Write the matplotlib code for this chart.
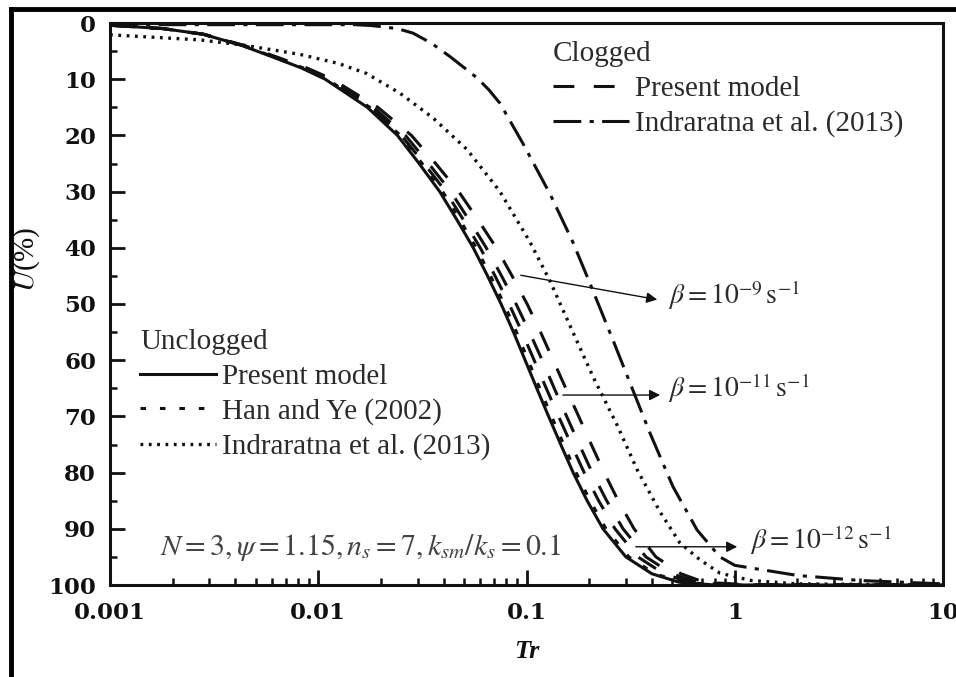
import matplotlib
matplotlib.use("Agg")
import matplotlib.pyplot as plt
from matplotlib.lines import Line2D
from matplotlib.ticker import LogLocator, NullFormatter, MultipleLocator

plt.rcParams["font.family"] = ["Liberation Serif", "DejaVu Serif"]
plt.rcParams["mathtext.fontset"] = "stix"
plt.rcParams["lines.scale_dashes"] = False

# 固结度 U(%) 的取值层级 (用于本模型/Han-Ye/淤堵曲线)
u_levels = [0.4, 1, 2, 4, 6, 8, 10, 15, 20, 25, 30, 35, 40, 45, 50, 55, 60, 65, 70,
            75, 80, 85, 90, 95, 98, 99.5, 100, 100]

# 未淤堵: 本文模型 (实线)
tr_unclog_present = [0.001, 0.0018, 0.0028, 0.0043, 0.006, 0.0083, 0.0108, 0.0172, 0.0240,
                     0.0305, 0.0383, 0.0463, 0.0555, 0.065, 0.0755, 0.0866, 0.0985, 0.112,
                     0.1277, 0.146, 0.1675, 0.1955, 0.233, 0.300, 0.40, 0.54, 0.8, 10]
# 未淤堵: Han and Ye (2002)
tr_han_ye = [0.001, 0.0018, 0.0028, 0.00435, 0.00607, 0.00849, 0.01104, 0.01768, 0.02481,
             0.03153, 0.03959, 0.04786, 0.05737, 0.06719, 0.07804, 0.08952, 0.1018, 0.1158,
             0.132, 0.1509, 0.1731, 0.2021, 0.2409, 0.3101, 0.4135, 0.5582, 0.85, 10]

# 淤堵: 本文模型, 三个 beta
tr_beta12 = [0.001, 0.0018, 0.0028, 0.004324, 0.006067, 0.008439, 0.011042, 0.01778, 0.02508,
             0.03223, 0.04093, 0.04975, 0.05996, 0.07062, 0.08248, 0.09513, 0.1088, 0.1244,
             0.1426, 0.164, 0.1892, 0.222, 0.266, 0.3425, 0.4567, 0.6031, 1.0, 10]
tr_beta11 = [0.001, 0.0018, 0.0028, 0.004348, 0.006134, 0.00858, 0.01129, 0.01838, 0.02622,
             0.03388, 0.04325, 0.05286, 0.06408, 0.07588, 0.08912, 0.1034, 0.1189, 0.1359,
             0.1559, 0.1792, 0.2067, 0.2426, 0.2908, 0.3744, 0.4992, 0.6591, 1.1, 10]
tr_beta9 = [0.001, 0.0018, 0.00283, 0.00442, 0.00627, 0.00882, 0.01167, 0.01932, 0.02802,
            0.03661, 0.04727, 0.05843, 0.0716, 0.08525, 0.1007, 0.1168, 0.1343, 0.1544,
            0.1781, 0.2047, 0.2361, 0.2756, 0.3285, 0.4183, 0.5515, 0.7122, 1.2, 10]

# Indraratna et al. (2013) 未淤堵 (点线)
tr_ind_unclog = [0.001, 0.0027, 0.0045, 0.0082, 0.0125, 0.0171, 0.0247, 0.0356, 0.0518, 0.0746,
                 0.104, 0.130, 0.167, 0.209, 0.272, 0.34, 0.438, 0.545, 0.68, 0.85, 1.2, 2, 10]
u_ind_unclog = [2.1, 3.0, 4.0, 5.6, 7.2, 9.0, 12.5, 16.9, 22.5, 30,
                39, 46, 55, 63, 71.5, 79.5, 87, 92.5, 95.5, 97.9, 99.2, 99.8, 100]

# Indraratna et al. (2013) 淤堵 (点划线)
tr_ind_clog = [0.001, 0.015, 0.018, 0.024, 0.0285, 0.035, 0.043, 0.05, 0.058, 0.066, 0.0746,
               0.096, 0.130, 0.167, 0.2, 0.26, 0.324, 0.392, 0.505, 0.659, 0.849, 1, 2, 4, 10]
u_ind_clog = [0.3, 0.3, 0.45, 1.0, 1.8, 3.6, 6, 7.9, 9.8, 11.9, 14.3, 21.4,
              30.5, 39, 46, 56.4, 65.3, 73, 82.5, 90.2, 95, 96.5, 98.3, 99.2, 99.8]

x_ticks = [0.001, 0.01, 0.1, 1, 10]
x_tick_labels = ["0.001", "0.01", "0.1", "1", "10"]
y_ticks = list(range(0, 101, 10))

ink = "#111111"
txt = "#2b2b2b"

fig = plt.figure(figsize=(9.56, 6.77), dpi=100)
ax = fig.add_axes([110 / 956, 1 - 585 / 677, 833 / 956, 562 / 677])

l_solid, = ax.plot(tr_unclog_present, u_levels, color=ink, lw=2.2)
l_han, = ax.plot(tr_han_ye, u_levels, color=ink, lw=2.2, dashes=(4, 10))
l_dot, = ax.plot(tr_ind_unclog, u_ind_unclog, color=ink, lw=2.4, dashes=(2, 4))
l_b12, = ax.plot(tr_beta12, u_levels, color=ink, lw=2.2, dashes=(15, 14))
ax.plot(tr_beta11, u_levels, color=ink, lw=2.2, dashes=(15, 14))
ax.plot(tr_beta9, u_levels, color=ink, lw=2.2, dashes=(15, 14))
l_dd, = ax.plot(tr_ind_clog, u_ind_clog, color=ink, lw=2.2, dashes=(20, 6, 3, 6))

# 坐标轴
ax.set_xscale("log")
ax.set_xlim(0.001, 10)
ax.set_ylim(100, 0)
ax.set_xticks(x_ticks)
ax.set_xticklabels(x_tick_labels)
ax.xaxis.set_minor_locator(LogLocator(base=10, subs=range(2, 10)))
ax.xaxis.set_minor_formatter(NullFormatter())
ax.set_yticks(y_ticks)
ax.yaxis.set_minor_locator(MultipleLocator(5))
ax.tick_params(which="major", direction="in", length=11, width=2, pad=10, colors=ink)
ax.tick_params(axis="x", which="major", pad=12)
ax.tick_params(which="minor", direction="in", length=5, width=1.8, colors=ink)
for lab in ax.get_xticklabels() + ax.get_yticklabels():
    lab.set_fontfamily("DejaVu Serif")
    lab.set_fontweight("bold")
    lab.set_fontsize(16.5)
for s in ax.spines.values():
    s.set_linewidth(2.2)
    s.set_color(ink)

ax.set_xlabel("Tr", fontstyle="italic", fontweight="bold", fontsize=19, color=ink, va="top")
ax.xaxis.set_label_coords(0.5, -0.098)
ax.set_ylabel(r"$U$(%)", fontsize=21, color=ink)
ax.yaxis.set_label_coords(-0.082, 0.58)

# 图例
leg1 = ax.legend([l_solid, l_han, l_dot],
                 ["Present model", "Han and Ye (2002)", "Indraratna et al. (2013)"],
                 title="Unclogged", loc="upper left", bbox_to_anchor=(0.036, 0.455),
                 frameon=False, prop={"size": 21}, title_fontproperties={"size": 21},
                 alignment="left", handlelength=2.6, handletextpad=0.2,
                 labelspacing=0.28, borderpad=0, borderaxespad=0, labelcolor=txt)
leg1.get_title().set_color(txt)
ax.add_artist(leg1)
leg2 = ax.legend([l_b12, l_dd], ["Present model", "Indraratna et al. (2013)"],
                 title="Clogged", loc="upper left", bbox_to_anchor=(0.532, 0.968),
                 frameon=False, prop={"size": 21}, title_fontproperties={"size": 21},
                 alignment="left", handlelength=2.6, handletextpad=0.2,
                 labelspacing=0.3, borderpad=0, borderaxespad=0, labelcolor=txt)
leg2.get_title().set_color(txt)
leg2._legend_box.sep = 6

# beta 标注与箭头
arrow = dict(arrowstyle="-|>", color=ink, lw=1.0, mutation_scale=16)
ax.annotate("", xy=(0.4375, 49.3), xytext=(0.091, 44.8), arrowprops=arrow)
ax.annotate("", xy=(0.452, 66.2), xytext=(0.145, 66.2), arrowprops=arrow)
ax.annotate("", xy=(1.06, 93.2), xytext=(0.3246, 93.2), arrowprops=arrow)
ax.text(0.478, 48.4, r"$\beta=10^{-9}\,\mathrm{s}^{-1}$", fontsize=20, color=txt, va="center")
ax.text(0.478, 64.9, r"$\beta=10^{-11}\,\mathrm{s}^{-1}$", fontsize=20, color=txt, va="center")
ax.text(1.184, 92.0, r"$\beta=10^{-12}\,\mathrm{s}^{-1}$", fontsize=20, color=txt, va="center")

ax.text(0.00174, 93.4, r"$N=3,\psi=1.15,n_s=7,k_{sm}/k_s=0.1$", fontsize=21.5,
        color="#444444", va="center")

# 外框
fig.add_artist(Line2D([11 / 956, 11 / 956], [0, 1 - 9 / 677], transform=fig.transFigure,
                      color="black", lw=3.5))
fig.add_artist(Line2D([11 / 956, 1], [1 - 9 / 677, 1 - 9 / 677], transform=fig.transFigure,
                      color="black", lw=3.5))

fig.savefig("out.png", dpi=100)
